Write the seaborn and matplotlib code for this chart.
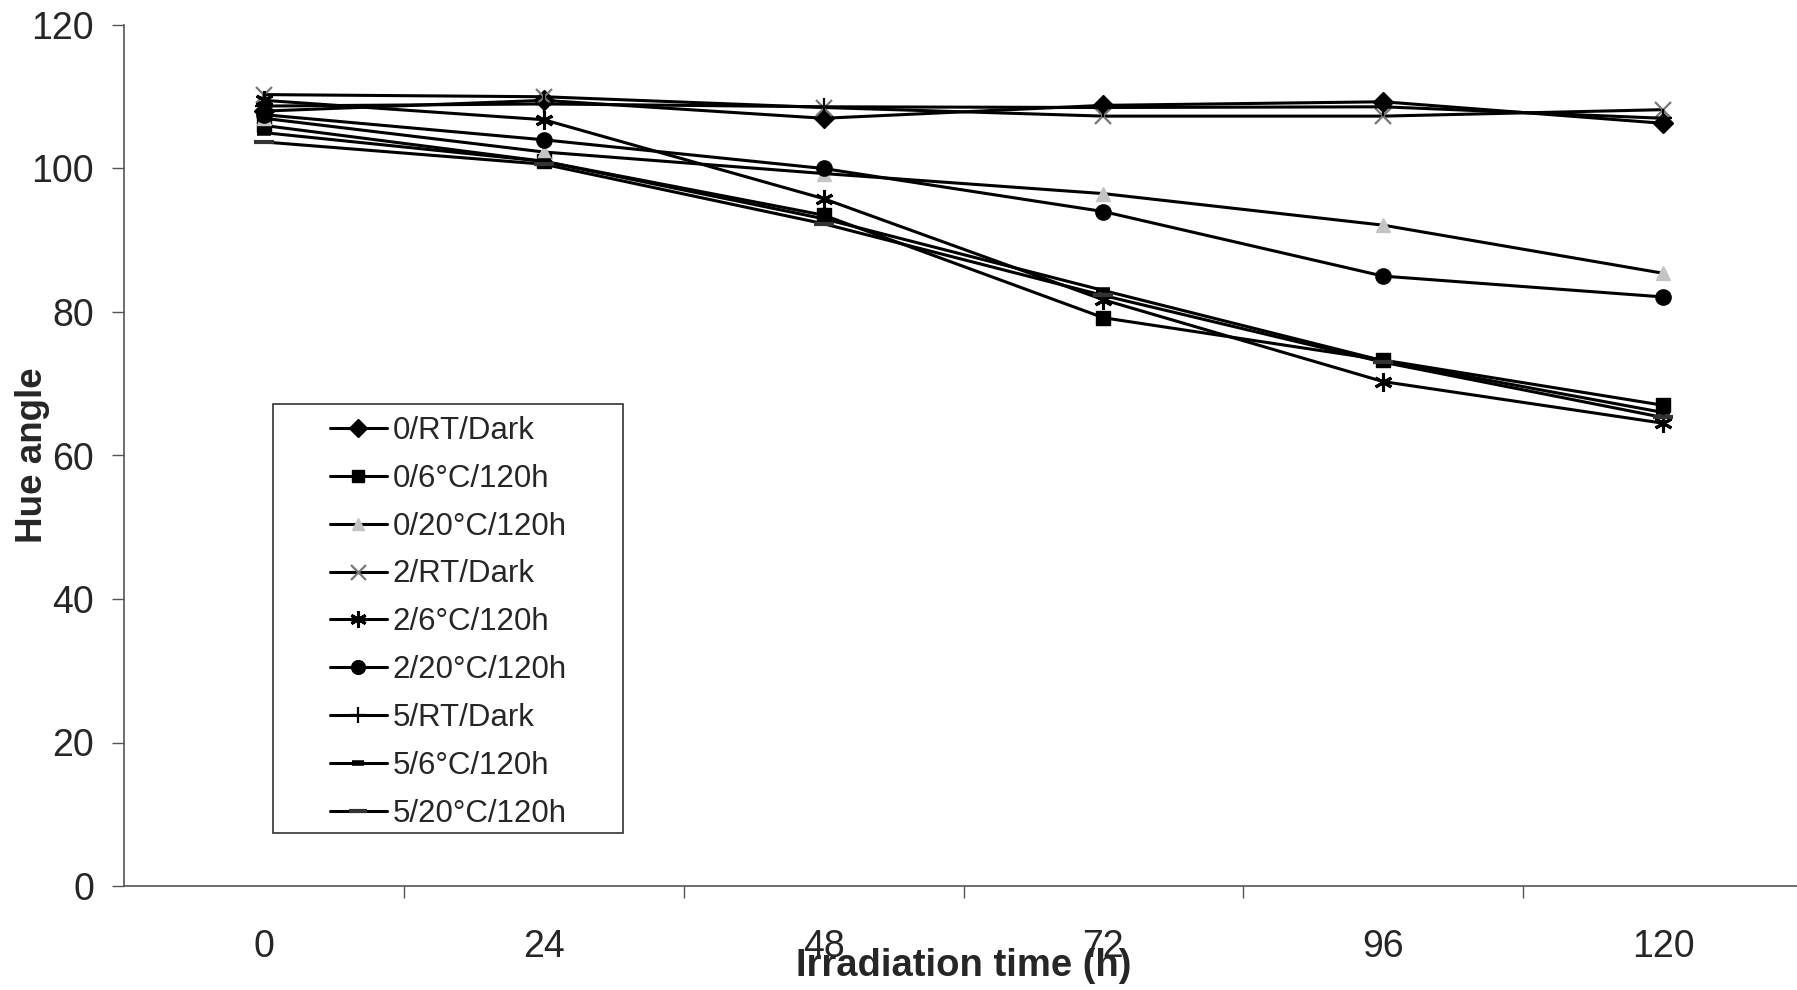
import matplotlib.pyplot as plt
import seaborn as sns
import pandas as pd
from matplotlib.patches import Rectangle
from matplotlib.ticker import FixedLocator

sns.set_style("white")
plt.rcParams['font.family'] = ['Liberation Sans', 'DejaVu Sans']

# irradiation times (categories on the x axis)
times = ["0", "24", "48", "72", "96", "120"]

labels = ["0/RT/Dark", "0/6°C/120h", "0/20°C/120h",
          "2/RT/Dark", "2/6°C/120h", "2/20°C/120h",
          "5/RT/Dark", "5/6°C/120h", "5/20°C/120h"]

# hue angle values
hue_0_rt = [108.0, 109.5, 107.0, 108.8, 109.3, 106.3]
hue_0_6c = [106.0, 101.0, 93.5, 79.2, 73.3, 67.0]
hue_0_20c = [107.0, 102.3, 99.3, 96.5, 92.1, 85.4]
hue_2_rt = [110.3, 110.0, 108.5, 107.3, 107.3, 108.2]
hue_2_6c = [109.5, 106.8, 95.8, 81.7, 70.3, 64.5]
hue_2_20c = [107.5, 104.0, 100.0, 94.0, 85.0, 82.1]
hue_5_rt = [108.7, 109.0, 108.6, 108.5, 108.6, 107.0]
hue_5_6c = [105.0, 101.0, 93.0, 83.0, 73.2, 66.0]
hue_5_20c = [103.7, 100.6, 92.3, 82.3, 73.0, 65.3]

values = [hue_0_rt, hue_0_6c, hue_0_20c, hue_2_rt, hue_2_6c,
          hue_2_20c, hue_5_rt, hue_5_6c, hue_5_20c]

frames = []
for lab, vals in zip(labels, values):
    frames.append(pd.DataFrame({"time": times, "hue": vals, "series": lab}))
data = pd.concat(frames, ignore_index=True)

# marker styles per series (marker, size, edge width, marker colour)
styles = {
    "0/RT/Dark": ("D", 10, 1.0, "black"),
    "0/6°C/120h": ("s", 10, 1.0, "black"),
    "0/20°C/120h": ("^", 10, 1.0, "#c4c4c4"),
    "2/RT/Dark": ("x", 12, 1.6, "#777777"),
    "2/6°C/120h": ((6, 2, 0), 13, 2.2, "black"),
    "2/20°C/120h": ("o", 11, 1.0, "black"),
    "5/RT/Dark": ("+", 13, 1.6, "black"),
    "5/6°C/120h": ("_", 10, 4.0, "black"),
    "5/20°C/120h": ("_", 14, 3.0, "#333333"),
}

fig = plt.figure(figsize=(17.97, 9.9), dpi=100)
ax = fig.add_axes([124 / 1797, 104 / 990, 1679 / 1797, 861 / 990])

for lab in labels:
    m, ms, mew, mc = styles[lab]
    sns.lineplot(data=data[data["series"] == lab], x="time", y="hue",
                 sort=False, ax=ax, color="black", lw=2.2, label=lab,
                 marker=m, ms=ms, mew=mew, mec=mc, mfc=mc)

ax.set_xlim(-0.5, 5.5)
ax.set_ylim(0, 120)
ax.set_yticks(range(0, 121, 20))

# category boundaries carry the tick marks, labels sit in the middle
ax.xaxis.set_minor_locator(FixedLocator([0.5, 1.5, 2.5, 3.5, 4.5]))
ax.tick_params(axis="x", which="major", length=0, pad=31, labelsize=27)
ax.tick_params(axis="x", which="minor", direction="out", length=8.6,
               width=1, color="#555555", bottom=True)
ax.tick_params(axis="y", direction="out", length=8.6, width=1,
               color="#555555", pad=13, labelsize=27, left=True)

for side in ["top", "right"]:
    ax.spines[side].set_visible(False)
for side in ["left", "bottom"]:
    ax.spines[side].set_color("#555555")
    ax.spines[side].set_linewidth(1.2)

ax.set_xlabel("Irradiation time (h)", fontsize=27.5, fontweight="bold")
ax.xaxis.set_label_coords(0.5, -0.072)
ax.set_ylabel("Hue angle", fontsize=26.5, fontweight="bold")
ax.yaxis.set_label_coords(-0.044, 0.5)

# legend box
box = Rectangle((273 / 1797, 1 - 833 / 990), 350 / 1797, 429 / 990,
                transform=fig.transFigure, facecolor="white",
                edgecolor="#333333", lw=1.2, zorder=5, clip_on=False)
ax.add_patch(box)

handles, hlabels = ax.get_legend_handles_labels()
leg = ax.legend(handles, hlabels, loc="upper left",
                bbox_to_anchor=(330 / 1797, 1 - 416 / 990),
                bbox_transform=fig.transFigure, frameon=False,
                fontsize=22.5, borderpad=0, borderaxespad=0,
                labelspacing=0.57, handlelength=1.82, handletextpad=0.19,
                markerscale=0.9)
leg.set_zorder(6)

fig.savefig("out.png", dpi=100)
plt.close(fig)
